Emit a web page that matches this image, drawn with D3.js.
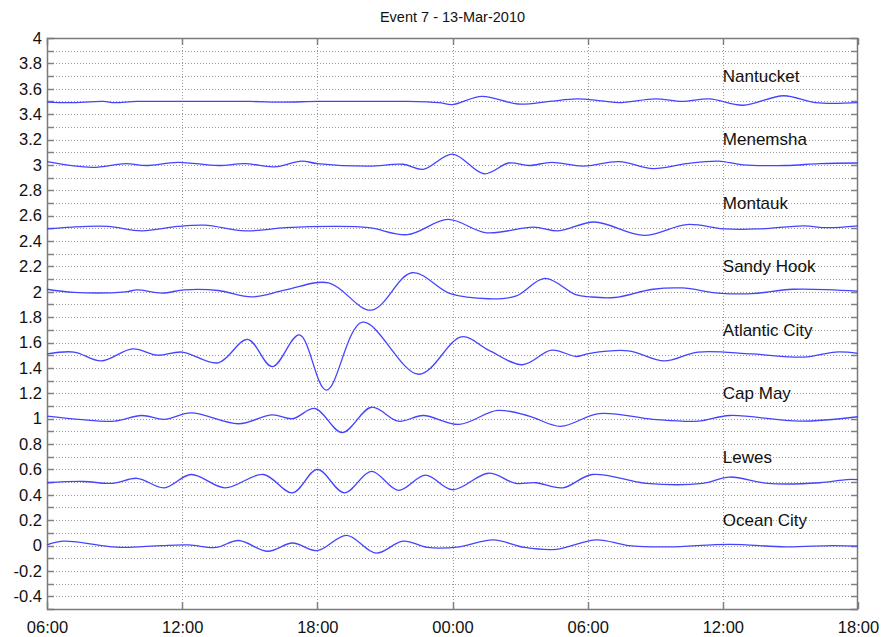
<!DOCTYPE html>
<html>
<head>
<meta charset="utf-8">
<script src="https://cdn.jsdelivr.net/npm/d3@7"></script>
<style>
  html, body { margin: 0; padding: 0; background: #fff; }
  svg text { font-family: "Liberation Sans", Arial, Helvetica, sans-serif; fill: #111; }
</style>
</head>
<body>
<svg id="chart" width="882" height="637"></svg>
<script>
// Hours after 06:00 on 13-Mar-2010, and water level (m) with each station stacked on its own offset
const nantucket = [[0,3.495],[1,3.49],[2.5,3.50],[3,3.49],[4,3.50],[6,3.50],[9,3.50],[10.5,3.495],[12,3.50],[14,3.50],[16,3.50],[17.4,3.49],[18.0,3.475],[19.3,3.54],[20.9,3.48],[22.3,3.50],[23.5,3.52],[24.6,3.505],[25.4,3.49],[27.0,3.52],[28.2,3.50],[29.4,3.52],[30.9,3.47],[32.7,3.545],[34.1,3.49],[36,3.49]];
const menemsha = [[0,3.025],[2.0,2.98],[3.5,3.01],[4.4,2.995],[5.8,3.02],[7.6,2.995],[8.8,3.01],[10.1,2.985],[11.3,3.03],[12.0,3.01],[14.3,2.99],[15.8,3.005],[16.7,2.965],[18.0,3.085],[19.4,2.93],[20.5,3.015],[21.4,2.995],[22.4,3.02],[23.8,2.99],[25.4,3.025],[26.9,2.97],[28.4,3.01],[29.8,3.03],[30.9,3.0],[32.8,2.995],[34.3,3.01],[36,3.015]];
const montauk = [[0,2.495],[1.1,2.51],[2.7,2.515],[4.2,2.48],[5.8,2.515],[7.0,2.525],[8.8,2.48],[10.6,2.505],[12.8,2.515],[14.3,2.505],[16.0,2.45],[17.8,2.57],[19.5,2.465],[21.6,2.51],[22.7,2.48],[24.3,2.55],[26.5,2.445],[28.4,2.53],[30.1,2.495],[31.6,2.495],[33.6,2.52],[34.6,2.505],[36,2.52]];
const sandyHook = [[0,2.02],[1.2,1.995],[3.5,2.0],[4.0,2.015],[5.1,1.99],[6.1,2.015],[7.6,2.01],[9.1,1.96],[10.6,2.015],[12.5,2.07],[14.4,1.855],[16.2,2.15],[17.9,1.985],[19.6,1.945],[20.8,1.965],[22.1,2.105],[23.5,1.975],[24.1,1.96],[25.2,1.955],[26.9,2.02],[28.2,2.03],[29.8,1.99],[31.3,1.985],[33.1,2.02],[36,2.005]];
const atlanticCity = [[0,1.51],[1.2,1.525],[2.4,1.455],[3.8,1.55],[4.9,1.50],[6.0,1.525],[7.6,1.44],[8.9,1.625],[10.0,1.41],[11.2,1.66],[12.4,1.225],[14.0,1.76],[16.5,1.35],[18.4,1.645],[19.6,1.54],[21.1,1.425],[22.4,1.54],[23.5,1.49],[24.1,1.515],[25.8,1.535],[27.4,1.455],[28.9,1.525],[31.3,1.51],[33.6,1.485],[35.0,1.525],[36,1.515]];
const capMay = [[0,1.02],[1.4,0.995],[3.0,0.98],[4.2,1.025],[5.2,0.995],[6.4,1.045],[8.5,0.96],[10.0,1.03],[10.9,1.0],[11.9,1.08],[13.1,0.89],[14.4,1.09],[15.6,0.98],[16.7,1.025],[18.3,0.955],[20.0,1.065],[21.4,1.02],[22.8,0.94],[24.5,1.04],[26.9,0.995],[28.9,0.98],[30.3,1.025],[33.4,0.98],[36,1.015]];
const lewes = [[0,0.495],[1.6,0.505],[2.9,0.49],[4.0,0.53],[5.2,0.455],[6.4,0.56],[7.9,0.455],[9.6,0.56],[10.9,0.415],[12.0,0.60],[13.2,0.415],[14.4,0.585],[15.6,0.435],[16.8,0.555],[18.0,0.44],[19.6,0.57],[20.8,0.49],[21.7,0.495],[22.9,0.455],[24.2,0.56],[26.6,0.49],[29.1,0.49],[30.3,0.54],[32.0,0.49],[34.3,0.495],[35.5,0.52],[36,0.52]];
const oceanCity = [[0,0.005],[0.7,0.035],[2.9,-0.01],[3.5,-0.015],[5.1,0.0],[6.3,0.005],[7.5,-0.015],[8.5,0.04],[9.8,-0.045],[10.9,0.02],[12.0,-0.04],[13.3,0.08],[14.6,-0.06],[15.8,0.035],[16.9,-0.015],[18.3,-0.01],[19.8,0.045],[21.2,-0.015],[22.6,-0.03],[24.4,0.045],[25.8,0.0],[27.6,-0.01],[30.3,0.01],[32.8,-0.01],[34.9,0.0],[36,-0.005]];

const stationNames = ["Nantucket","Menemsha","Montauk","Sandy Hook","Atlantic City","Cap May","Lewes","Ocean City"];
const stationOffsets = [3.5, 3.0, 2.5, 2.0, 1.5, 1.0, 0.5, 0.0];
const stationSeries = [nantucket, menemsha, montauk, sandyHook, atlanticCity, capMay, lewes, oceanCity];

const xTickHours = [0, 6, 12, 18, 24, 30, 36];
const xTickLabels = ["06:00","12:00","18:00","00:00","06:00","12:00","18:00"];
const yTickValues = [-0.4,-0.2,0,0.2,0.4,0.6,0.8,1,1.2,1.4,1.6,1.8,2,2.2,2.4,2.6,2.8,3,3.2,3.4,3.6,3.8,4];
const yTickLabels = ["-0.4","-0.2","0","0.2","0.4","0.6","0.8","1","1.2","1.4","1.6","1.8","2","2.2","2.4","2.6","2.8","3","3.2","3.4","3.6","3.8","4"];
const chartTitle = "Event 7 - 13-Mar-2010";
const labelHour = 30;

const svg = d3.select("#chart");
const margin = {left: 47, right: 24, top: 38, bottom: 28};
const W = 882, H = 637;
const x = d3.scaleLinear().domain([0, 36]).range([margin.left, W - margin.right]);
const y = d3.scaleLinear().domain([-0.5, 4]).range([H - margin.bottom, margin.top]);
const x0 = x.range()[0], x1 = x.range()[1], y0 = y.range()[0], y1 = y.range()[1];

// minor grid every 0.1 in y
const yMinor = d3.range(-5, 41).map(i => i / 10);
const grid = svg.append("g").attr("stroke", "#9a9a9a").attr("stroke-width", 1).attr("stroke-dasharray", "1,2");
grid.selectAll("line.h").data(yMinor.filter(v => v > -0.5 && v < 4)).join("line")
  .attr("class", "h")
  .attr("x1", x0).attr("x2", x1)
  .attr("y1", d => Math.round(y(d)) + 0.5).attr("y2", d => Math.round(y(d)) + 0.5);
grid.selectAll("line.v").data(xTickHours.filter(h => h > 0 && h < 36)).join("line")
  .attr("class", "v")
  .attr("y1", y1).attr("y2", y0)
  .attr("x1", d => Math.round(x(d)) + 0.5).attr("x2", d => Math.round(x(d)) + 0.5);

// inward ticks on all four sides
const tickLen = 7;
const ticks = svg.append("g").attr("stroke", "#808080").attr("stroke-width", 1.5);
ticks.selectAll("line.l").data(yMinor).join("line")
  .attr("x1", x0).attr("x2", x0 + tickLen)
  .attr("y1", d => Math.round(y(d)) + 0.5).attr("y2", d => Math.round(y(d)) + 0.5);
ticks.selectAll("line.r").data(yMinor).join("line")
  .attr("x1", x1 - tickLen).attr("x2", x1)
  .attr("y1", d => Math.round(y(d)) + 0.5).attr("y2", d => Math.round(y(d)) + 0.5);
ticks.selectAll("line.t").data(xTickHours).join("line")
  .attr("y1", y1).attr("y2", y1 + tickLen)
  .attr("x1", d => Math.round(x(d)) + 0.5).attr("x2", d => Math.round(x(d)) + 0.5);
ticks.selectAll("line.b").data(xTickHours).join("line")
  .attr("y1", y0 - tickLen).attr("y2", y0)
  .attr("x1", d => Math.round(x(d)) + 0.5).attr("x2", d => Math.round(x(d)) + 0.5);

// axes (labels only; box drawn separately)
const xAxis = d3.axisBottom(x).tickValues(xTickHours).tickSize(0).tickPadding(12)
  .tickFormat((d, i) => xTickLabels[i]);
svg.append("g").attr("transform", `translate(0,${y0})`).call(xAxis)
  .call(g => g.select(".domain").remove())
  .selectAll("text").style("font-size", "16.5px").attr("fill", "#111")
  .style("font-family", "'Liberation Sans', Arial, sans-serif");

const yAxis = d3.axisLeft(y).tickValues(yTickValues).tickSize(0).tickPadding(5)
  .tickFormat((d, i) => yTickLabels[i]);
svg.append("g").attr("transform", `translate(${x0},0)`).call(yAxis)
  .call(g => g.select(".domain").remove())
  .selectAll("text").style("font-size", "16.5px").attr("fill", "#111")
  .style("font-family", "'Liberation Sans', Arial, sans-serif");

// plot box
svg.append("rect")
  .attr("x", x0 + 0.5).attr("y", y1 + 0.5)
  .attr("width", x1 - x0 - 1).attr("height", y0 - y1)
  .attr("fill", "none").attr("stroke", "#7a7a7a").attr("stroke-width", 1.5);

// station traces
const line = d3.line().x(d => x(d[0])).y(d => y(d[1])).curve(d3.curveCatmullRom.alpha(0.5));
svg.append("g").selectAll("path").data(stationSeries).join("path")
  .attr("d", line)
  .attr("fill", "none")
  .attr("stroke", "#4444ff")
  .attr("stroke-width", 1.3);

// station names
svg.append("g").selectAll("text").data(stationNames).join("text")
  .attr("x", x(labelHour))
  .attr("y", (d, i) => y(stationOffsets[i] + 0.2))
  .attr("dy", "0.35em")
  .style("font-size", "17px")
  .text(d => d);

// title
svg.append("text")
  .attr("x", (x0 + x1) / 2).attr("y", 22)
  .attr("text-anchor", "middle")
  .style("font-size", "14.5px")
  .text(chartTitle);
</script>
</body>
</html>
